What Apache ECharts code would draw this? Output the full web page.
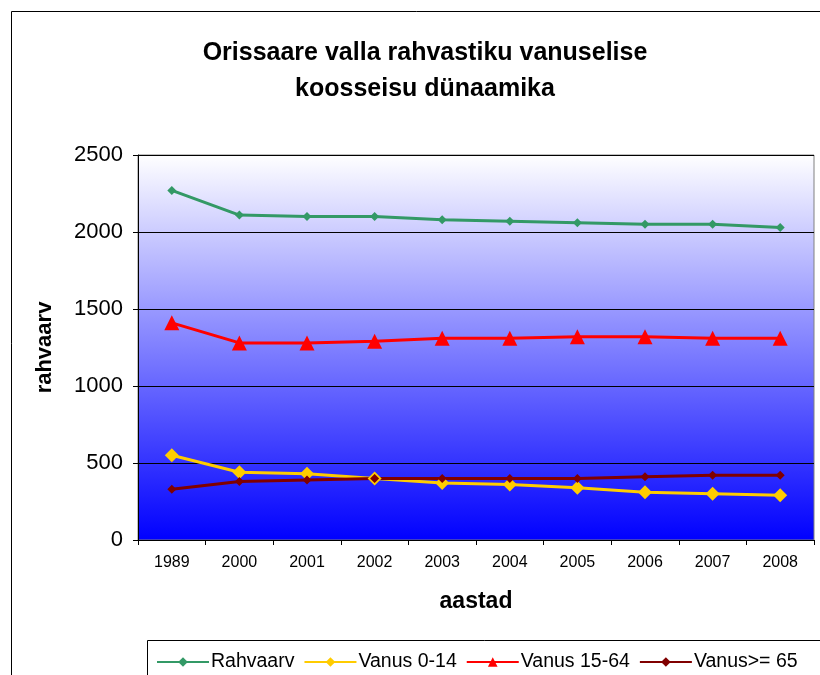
<!DOCTYPE html>
<html>
<head>
<meta charset="utf-8">
<script src="https://cdn.jsdelivr.net/npm/echarts@6/dist/echarts.min.js"></script>
<style>html,body{margin:0;padding:0;background:#fff}#c{width:820px;height:675px}</style>
</head>
<body>
<div id="c"></div>
<script>
const categories = ['1989','2000','2001','2002','2003','2004','2005','2006','2007','2008'];
const rahvaarv = [2270,2110,2100,2100,2080,2070,2060,2050,2050,2030];
const vanus0_14 = [550,440,430,400,370,360,340,310,300,290];
const vanus15_64 = [1410,1280,1280,1290,1310,1310,1320,1320,1310,1310];
const vanus65 = [330,380,390,400,400,400,400,410,420,420];
const yTicks = [0,500,1000,1500,2000,2500];

const font = '"Liberation Sans", Arial, sans-serif';
const chart = echarts.init(document.getElementById('c'));
chart.setOption({
  animation: false,
  backgroundColor: '#fff',
  title: {
    text: 'Orissaare valla rahvastiku vanuselise\nkoosseisu dünaamika',
    left: 420, top: 30, textAlign: 'center',
    textStyle: {fontFamily: font, fontSize: 25, fontWeight: 'bold', color: '#000', lineHeight: 36}
  },
  graphic: [
    {type: 'rect', shape: {x: 11.5, y: 11.5, width: 820, height: 700}, style: {fill: 'none', stroke: '#000', lineWidth: 1}, z: 100},
    {type: 'rect', shape: {x: 147.5, y: 640.5, width: 700, height: 60}, style: {fill: 'none', stroke: '#000', lineWidth: 1}, z: 100}
  ],
  legend: {
    left: 151, top: 647, itemWidth: 52, itemHeight: 12, itemGap: 9,
    textStyle: {fontFamily: font, fontSize: 19.5, color: '#000', padding: [0,0,0,-3]},
    data: ['Rahvaarv','Vanus 0-14','Vanus 15-64','Vanus>= 65']
  },
  grid: {left: 138, right: 6, top: 155, bottom: 135, show: true, borderColor: '#808080', borderWidth: 1,
    backgroundColor: new echarts.graphic.LinearGradient(0,0,0,1,[{offset:0,color:'#ffffff'},{offset:1,color:'#0000ff'}])},
  xAxis: {
    type: 'category', data: categories, boundaryGap: true,
    name: 'aastad', nameLocation: 'middle', nameGap: 50,
    nameTextStyle: {fontFamily: font, fontSize: 23, fontWeight: 'bold', color: '#000'},
    axisLine: {lineStyle: {color: '#000', width: 1}},
    axisTick: {show: true, length: 5, alignWithLabel: false, lineStyle: {color: '#000'}},
    axisLabel: {fontFamily: font, fontSize: 16, color: '#000', margin: 15}
  },
  yAxis: {
    type: 'value', min: 0, max: 2500, interval: 500,
    name: 'rahvaarv', nameLocation: 'middle', nameGap: 82,
    nameTextStyle: {fontFamily: font, fontSize: 22, fontWeight: 'bold', color: '#000'},
    axisLine: {show: true, lineStyle: {color: '#000', width: 1}},
    axisTick: {show: true, length: 5, lineStyle: {color: '#000'}},
    axisLabel: {fontFamily: font, fontSize: 22, color: '#000', margin: 15,
      formatter: v => yTicks.includes(v) ? String(v) : ''},
    splitLine: {show: true, lineStyle: {color: '#000', width: 1}}
  },
  series: [
    {name: 'Rahvaarv', type: 'line', data: rahvaarv, symbol: 'diamond', symbolSize: 9,
      lineStyle: {color: '#339966', width: 3}, itemStyle: {color: '#339966'}},
    {name: 'Vanus 0-14', type: 'line', data: vanus0_14, symbol: 'diamond', symbolSize: 14,
      lineStyle: {color: '#FFCC00', width: 3}, itemStyle: {color: '#FFCC00'}},
    {name: 'Vanus 15-64', type: 'line', data: vanus15_64, symbol: 'triangle', symbolSize: 15,
      lineStyle: {color: '#FF0000', width: 3}, itemStyle: {color: '#FF0000'}},
    {name: 'Vanus>= 65', type: 'line', data: vanus65, symbol: 'diamond', symbolSize: 9,
      lineStyle: {color: '#800000', width: 3}, itemStyle: {color: '#800000'}}
  ]
});
</script>
</body>
</html>
